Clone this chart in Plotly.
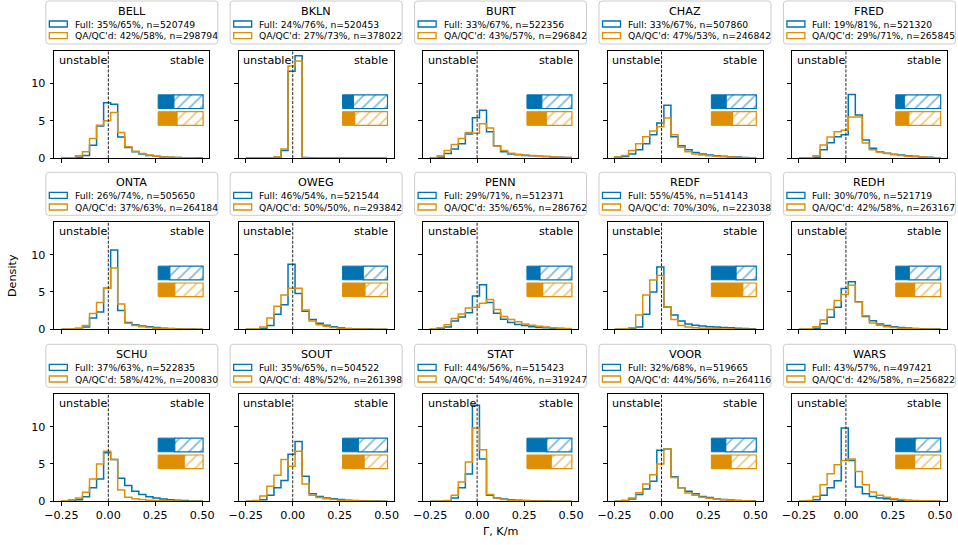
import numpy as np
import plotly.graph_objects as go

# ---------------------------------------------------------------- data
stations = ["BELL", "BKLN", "BURT", "CHAZ", "FRED",
            "ONTA", "OWEG", "PENN", "REDF", "REDH",
            "SCHU", "SOUT", "STAT", "VOOR", "WARS"]

# share of unstable samples (%), full record and after QA/QC
full_unstable_pct = [35, 24, 33, 33, 19, 26, 46, 29, 55, 30, 37, 35, 44, 32, 43]
qc_unstable_pct = [42, 27, 43, 47, 29, 37, 50, 35, 70, 42, 58, 48, 54, 44, 42]

n_full = [520749, 520453, 522356, 507860, 521320, 505650, 521544, 512371,
          514143, 521719, 522835, 504522, 515423, 519665, 497421]
n_qc = [298794, 378022, 296842, 246842, 265845, 264184, 293842, 286762,
        223038, 263167, 200830, 261398, 319247, 264116, 256822]

# histogram bins of the lapse rate, K/m
bin_edges = np.linspace(-0.25, 0.5, 21)

# density per bin, full record
density_full = [
    [0, 0, 0.1, 0.35, 1.7, 4.3, 7.4, 7.2, 2.8, 1.4, 0.85, 0.55, 0.35, 0.25, 0.15, 0.1, 0.08, 0.05, 0.03, 0.02],   # BELL
    [0, 0, 0, 0, 0.1, 1.0, 11.6, 13.68, 0.08, 0.02, 0, 0, 0, 0, 0, 0, 0, 0, 0, 0],                                 # BKLN
    [0, 0.1, 0.6, 1.2, 1.9, 3.2, 5.4, 6.4, 3.5, 1.65, 0.85, 0.55, 0.45, 0.35, 0.3, 0.25, 0.2, 0.15, 0.1, 0.08],   # BURT
    [0.1, 0.2, 0.55, 1.1, 1.9, 3.1, 4.7, 7.05, 2.85, 1.65, 1.1, 0.75, 0.55, 0.4, 0.3, 0.25, 0.18, 0.12, 0.08, 0.05],  # CHAZ
    [0, 0, 0.1, 1.1, 2.05, 2.85, 3.1, 8.5, 5.75, 2.4, 1.3, 0.85, 0.65, 0.5, 0.4, 0.3, 0.22, 0.15, 0.1, 0.05],     # FRED
    [0, 0.02, 0.1, 0.3, 1.5, 2.3, 5.5, 10.6, 2.5, 0.9, 0.6, 0.45, 0.35, 0.25, 0.15, 0.1, 0.07, 0.05, 0.03, 0.02],  # ONTA
    [0, 0.02, 0.1, 0.5, 2.0, 3.3, 8.7, 4.8, 2.4, 1.3, 0.8, 0.55, 0.35, 0.2, 0.12, 0.08, 0.05, 0.03, 0.02, 0.01],   # OWEG
    [0, 0.1, 0.3, 1.1, 1.65, 2.2, 4.45, 5.95, 3.6, 2.15, 1.35, 0.9, 0.65, 0.5, 0.35, 0.25, 0.2, 0.15, 0.1, 0.07],  # PENN
    [0, 0, 0.1, 0.3, 2.0, 5.0, 8.35, 3.0, 1.9, 1.1, 0.7, 0.55, 0.45, 0.35, 0.3, 0.25, 0.2, 0.15, 0.1, 0.07],      # REDF
    [0, 0, 0.15, 0.75, 1.6, 2.95, 5.45, 6.35, 3.7, 1.7, 1.15, 0.7, 0.5, 0.35, 0.25, 0.18, 0.12, 0.08, 0.05, 0.03],  # REDH
    [0, 0.05, 0.2, 0.6, 1.8, 3.0, 6.5, 5.6, 3.1, 2.1, 1.35, 0.9, 0.6, 0.45, 0.3, 0.2, 0.15, 0.1, 0.05, 0.03],      # SCHU
    [0, 0.05, 0.2, 0.8, 1.8, 2.8, 6.3, 8.0, 3.35, 1.0, 0.65, 0.45, 0.35, 0.25, 0.15, 0.1, 0.07, 0.05, 0.03, 0.02],  # SOUT
    [0, 0, 0.05, 0.45, 1.8, 3.65, 12.85, 5.65, 0.8, 0.45, 0.3, 0.2, 0.15, 0.1, 0.07, 0.05, 0.03, 0.02, 0.01, 0.01],  # STAT
    [0, 0.05, 0.3, 0.9, 1.65, 2.7, 6.85, 7.0, 3.3, 1.8, 1.35, 1.0, 0.65, 0.5, 0.35, 0.25, 0.18, 0.12, 0.08, 0.05],  # VOOR
    [0, 0, 0.2, 0.8, 1.8, 2.75, 9.8, 5.45, 1.9, 1.0, 0.65, 0.45, 0.35, 0.25, 0.15, 0.1, 0.07, 0.05, 0.03, 0.02],   # WARS
]

# density per bin, QA/QC'd record
density_qc = [
    [0, 0.02, 0.3, 0.85, 2.6, 4.4, 5.0, 6.1, 3.4, 1.5, 0.9, 0.6, 0.4, 0.25, 0.15, 0.1, 0.06, 0.04, 0.02, 0.01],    # BELL
    [0, 0, 0, 0, 0.15, 1.2, 12.3, 13.0, 0.05, 0.01, 0, 0, 0, 0, 0, 0, 0, 0, 0, 0],                                  # BKLN
    [0.05, 0.3, 1.0, 1.8, 2.6, 3.4, 3.3, 4.6, 4.0, 1.6, 1.0, 0.65, 0.5, 0.4, 0.32, 0.25, 0.2, 0.15, 0.1, 0.07],     # BURT
    [0.15, 0.35, 1.0, 1.9, 2.85, 3.6, 4.2, 5.35, 3.1, 1.45, 0.85, 0.55, 0.4, 0.3, 0.22, 0.17, 0.12, 0.08, 0.05, 0.03],  # CHAZ
    [0, 0.05, 0.3, 1.75, 2.8, 3.5, 3.7, 5.5, 5.5, 2.0, 1.1, 0.8, 0.6, 0.45, 0.35, 0.25, 0.18, 0.12, 0.08, 0.05],    # FRED
    [0, 0.05, 0.15, 0.5, 2.1, 3.6, 5.5, 8.2, 3.4, 0.8, 0.5, 0.35, 0.25, 0.15, 0.1, 0.07, 0.05, 0.03, 0.02, 0.01],   # ONTA
    [0, 0.05, 0.3, 1.5, 3.1, 4.6, 5.5, 5.5, 2.6, 1.1, 0.6, 0.4, 0.25, 0.15, 0.08, 0.05, 0.03, 0.02, 0.01, 0.01],    # OWEG
    [0.05, 0.2, 0.6, 1.45, 2.05, 2.85, 2.95, 3.5, 4.0, 2.65, 1.7, 1.3, 1.0, 0.7, 0.55, 0.4, 0.3, 0.2, 0.15, 0.1],   # PENN
    [0, 0.05, 0.2, 1.9, 4.6, 6.6, 7.2, 3.0, 1.3, 0.5, 0.3, 0.2, 0.15, 0.1, 0.07, 0.05, 0.03, 0.02, 0.01, 0.01],     # REDF
    [0, 0.05, 0.35, 1.25, 2.65, 3.85, 4.65, 5.9, 3.65, 1.8, 0.85, 0.55, 0.35, 0.25, 0.15, 0.1, 0.07, 0.05, 0.03, 0.02],  # REDH
    [0.05, 0.2, 0.45, 1.2, 3.0, 5.0, 6.7, 5.6, 1.5, 0.55, 0.35, 0.25, 0.15, 0.1, 0.07, 0.05, 0.03, 0.02, 0.01, 0.01],   # SCHU
    [0, 0.1, 0.7, 2.0, 3.5, 5.6, 4.7, 6.7, 2.3, 0.8, 0.5, 0.35, 0.25, 0.15, 0.1, 0.07, 0.05, 0.03, 0.02, 0.01],     # SOUT
    [0, 0.02, 0.1, 0.8, 2.6, 5.25, 9.8, 6.9, 0.9, 0.45, 0.25, 0.15, 0.1, 0.07, 0.05, 0.03, 0.02, 0.01, 0.01, 0],    # STAT
    [0, 0.15, 0.45, 1.15, 2.3, 3.55, 5.0, 7.0, 3.2, 1.8, 1.1, 0.8, 0.55, 0.4, 0.3, 0.2, 0.15, 0.1, 0.07, 0.05],     # VOOR
    [0, 0.1, 0.65, 2.2, 3.7, 4.9, 5.45, 5.65, 4.0, 2.2, 1.25, 0.8, 0.55, 0.35, 0.25, 0.15, 0.1, 0.07, 0.05, 0.03],  # WARS
]

x_tick_vals = [-0.25, 0.0, 0.25, 0.5]
x_tick_text = ["\u22120.25", "0.00", "0.25", "0.50"]
y_tick_vals = [0, 5, 10]
y_tick_text = ["0", "5", "10"]

# ---------------------------------------------------------------- style
W, H = 958, 545
BLUE = "#0173B2"
ORANGE = "#DE8F05"
FONT = "DejaVu Sans"
FS = 11.2        # base text size
FS_SMALL = 9.2   # legend entry size

col_left = [54.3, 238.7, 423.1, 607.5, 791.9]   # px
row_top = [50.7, 222.0, 394.0]                 # px
AX_W, AX_H = 155.0, 107.3

span = bin_edges[-1] - bin_edges[0]
x_range = [bin_edges[0] - 0.05 * span, bin_edges[-1] + 0.05 * span]
y_max = 1.05 * max(max(v) for v in density_full + density_qc)
y_range = [0, y_max]


def px(x):
    return x / W


def py(y):
    return 1 - y / H


def x_frac(f):
    return x_range[0] + f * (x_range[1] - x_range[0])


def y_frac(f):
    return y_range[0] + f * (y_range[1] - y_range[0])


def step_xy(values):
    xs = [bin_edges[0]] + list(bin_edges[:-1]) + [bin_edges[-1], bin_edges[-1]]
    ys = [0] + list(values) + [values[-1], 0]
    return xs, ys


def rounded_box(x0, y0, x1, y1, r=3.0):
    pts = [
        ("M", x0 + r, y0), ("L", x1 - r, y0), ("Q", x1, y0, x1, y0 + r),
        ("L", x1, y1 - r), ("Q", x1, y1, x1 - r, y1), ("L", x0 + r, y1),
        ("Q", x0, y1, x0, y1 - r), ("L", x0, y0 + r), ("Q", x0, y0, x0 + r, y0),
    ]
    parts = []
    for p in pts:
        cmd = p[0]
        coords = p[1:]
        s = []
        for i in range(0, len(coords), 2):
            s.append(f"{px(coords[i]):.5f},{py(coords[i + 1]):.5f}")
        parts.append(cmd + " " + " ".join(s))
    return " ".join(parts) + " Z"


fig = go.Figure()
layout = dict(
    width=W, height=H,
    margin=dict(l=0, r=0, t=0, b=0, pad=0, autoexpand=False),
    paper_bgcolor="white", plot_bgcolor="white",
    showlegend=False, barmode="overlay",
    font=dict(family=FONT, size=FS, color="black"),
)
shapes = []
annotations = []

bar_x0 = x_frac(0.67)
bar_len = x_frac(0.96) - bar_x0
bar_h = y_frac(0.127) - y_frac(0)
bar_rows = [(y_frac(0.525), BLUE, full_unstable_pct), (y_frac(0.368), ORANGE, qc_unstable_pct)]

for i, name in enumerate(stations):
    r, c = divmod(i, 5)
    k = i + 1
    xa = "x" if k == 1 else f"x{k}"
    ya = "y" if k == 1 else f"y{k}"
    left, top = col_left[c], row_top[r]

    layout["xaxis" if k == 1 else f"xaxis{k}"] = dict(
        domain=[px(left), px(left + AX_W)], anchor=ya, range=x_range,
        showgrid=False, zeroline=False, showline=True, linecolor="black",
        linewidth=0.9, mirror=True, ticks="outside", ticklen=3.7, tickwidth=0.9,
        tickcolor="black", tickvals=x_tick_vals, ticktext=x_tick_text,
        showticklabels=(r == 2), tickfont=dict(size=FS, family=FONT, color="black"),
        automargin=False, fixedrange=True,
    )
    layout["yaxis" if k == 1 else f"yaxis{k}"] = dict(
        domain=[py(top + AX_H), py(top)], anchor=xa, range=y_range,
        showgrid=False, zeroline=False, showline=True, linecolor="black",
        linewidth=0.9, mirror=True, ticks="outside", ticklen=3.7, tickwidth=0.9,
        tickcolor="black", tickvals=y_tick_vals, ticktext=y_tick_text,
        showticklabels=(c == 0), tickfont=dict(size=FS, family=FONT, color="black"),
        ticklabelstandoff=2, automargin=False, fixedrange=True,
    )

    # histograms as step outlines
    for vals, col in ((density_full[i], BLUE), (density_qc[i], ORANGE)):
        xs, ys = step_xy(vals)
        fig.add_trace(go.Scatter(
            x=xs, y=ys, mode="lines", line=dict(color=col, width=1.5, shape="hv"),
            xaxis=xa, yaxis=ya, hoverinfo="skip", cliponaxis=True,
        ))

    # unstable (solid) / stable (hatched) share bars
    for yc, col, pct in bar_rows:
        solid = bar_len * pct[i] / 100.0
        fig.add_trace(go.Bar(
            orientation="h", y=[yc], x=[solid], base=[bar_x0], width=bar_h,
            marker=dict(color=col, line=dict(color=col, width=1)),
            xaxis=xa, yaxis=ya, hoverinfo="skip",
        ))
        fig.add_trace(go.Bar(
            orientation="h", y=[yc], x=[bar_len - solid], base=[bar_x0 + solid], width=bar_h,
            marker=dict(color="white", line=dict(color=col, width=1.2),
                        pattern=dict(shape="/", fgcolor=col, bgcolor="white",
                                     size=8, solidity=0.22)),
            xaxis=xa, yaxis=ya, hoverinfo="skip",
        ))

    # neutral-stability reference line
    shapes.append(dict(
        type="line", xref=xa, yref=f"{ya} domain", x0=0, x1=0, y0=0, y1=1,
        line=dict(color="#222222", width=1, dash="3px,1.5px"), layer="above",
    ))

    annotations.append(dict(
        text="unstable", xref=f"{xa} domain", yref=f"{ya} domain",
        x=0.018, y=0.91, xanchor="left", yanchor="middle", showarrow=False,
        font=dict(size=FS, family=FONT, color="black"),
    ))
    annotations.append(dict(
        text="stable", xref=f"{xa} domain", yref=f"{ya} domain",
        x=0.978, y=0.91, xanchor="right", yanchor="middle", showarrow=False,
        font=dict(size=FS, family=FONT, color="black"),
    ))

    # legend box above each panel
    box_w = 172.0
    cx = left + AX_W / 2
    bx0, bx1 = cx - box_w / 2, cx + box_w / 2
    by0, by1 = top - 49.7, top - 6.7
    shapes.append(dict(
        type="path", xref="paper", yref="paper", path=rounded_box(bx0, by0, bx1, by1),
        line=dict(color="#cccccc", width=1), fillcolor="rgba(255,255,255,0.8)",
    ))
    annotations.append(dict(
        text=name, xref="paper", yref="paper", x=px(cx), y=py(by0 + 10.5),
        xanchor="center", yanchor="middle", showarrow=False,
        font=dict(size=FS, family=FONT, color="black"),
    ))
    entries = [
        (BLUE, f"Full: {full_unstable_pct[i]}%/{100 - full_unstable_pct[i]}%, n={n_full[i]}"),
        (ORANGE, f"QA/QC'd: {qc_unstable_pct[i]}%/{100 - qc_unstable_pct[i]}%, n={n_qc[i]}"),
    ]
    for j, (col, label) in enumerate(entries):
        ey = by0 + 23.0 + j * 11.7
        shapes.append(dict(
            type="rect", xref="paper", yref="paper",
            x0=px(bx0 + 3.5), x1=px(bx0 + 21.5), y0=py(ey + 3), y1=py(ey - 3),
            line=dict(color=col, width=1.3), fillcolor="rgba(0,0,0,0)",
        ))
        annotations.append(dict(
            text=label, xref="paper", yref="paper", x=px(bx0 + 27.0), y=py(ey),
            xanchor="left", yanchor="middle", showarrow=False,
            font=dict(size=FS_SMALL, family=FONT, color="black"),
        ))

# shared axis titles
annotations.append(dict(
    text="Density", xref="paper", yref="paper", x=px(12), y=py(276),
    xanchor="center", yanchor="middle", textangle=-90, showarrow=False,
    font=dict(size=FS, family=FONT, color="black"),
))
annotations.append(dict(
    text="\u0393, K/m", xref="paper", yref="paper", x=px(500.6), y=py(531),
    xanchor="center", yanchor="middle", showarrow=False,
    font=dict(size=FS, family=FONT, color="black"),
))

layout["shapes"] = shapes
layout["annotations"] = annotations
fig.update_layout(**layout)
fig.write_html("out.html")
